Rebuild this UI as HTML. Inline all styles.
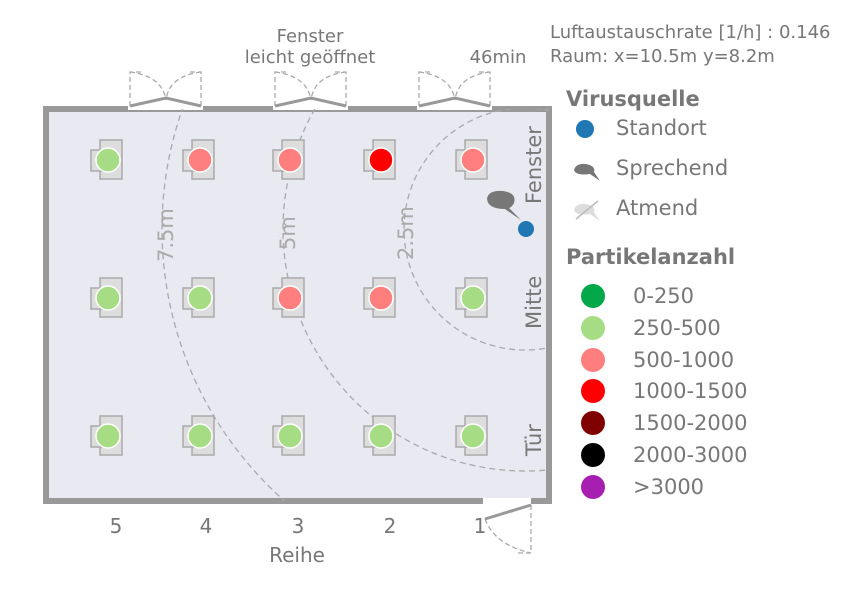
<!DOCTYPE html>
<html><head><meta charset="utf-8"><style>body{margin:0;background:#fff}svg{display:block}text{font-family:"DejaVu Sans","Liberation Sans",sans-serif}</style></head><body>
<svg width="864" height="600" viewBox="0 0 864 600" xmlns="http://www.w3.org/2000/svg">
<defs><clipPath id="room"><rect x="46" y="109" width="503" height="392"/></clipPath>
<g id="d" fill="#ddd" stroke="#aaa" stroke-width="1.5"><rect x="-8" y="-20" width="22" height="39"/><rect x="-17" y="-10" width="12" height="21"/></g>
<g id="w"><path d="M130 106 V72 H143 M201 106 V72 H188 M130 72 Q162 76 166 100 M201 72 Q169 76 166 100"/></g>
<g id="s"><path d="M130 106 L166 98 L201 106"/></g>
</defs>
<rect x="46" y="109" width="503" height="392" fill="#e9e9f1" stroke="#999" stroke-width="6"/>
<g fill="#fff"><rect x="128" y="104" width="75" height="6"/><rect x="273" y="104" width="75" height="6"/><rect x="417" y="104" width="75" height="6"/><rect x="483" y="498" width="48" height="7"/></g>
<g fill="none" stroke="#aaa" stroke-width="1.3" stroke-dasharray="5,3">
<use href="#w"/><use href="#w" x="145"/><use href="#w" x="289"/>
<path d="M531 505 V553 H515 M485 519 Q495 545 531 553"/>
</g>
<g stroke="#999" stroke-width="3" fill="none"><use href="#s"/><use href="#s" x="145"/><use href="#s" x="289"/><path d="M531 505 L485 519"/></g>
<g clip-path="url(#room)" fill="none" stroke="#aaa" stroke-width="1.3" stroke-dasharray="6,4">
<circle cx="525" cy="229" r="121"/><circle cx="525" cy="229" r="242"/><circle cx="525" cy="229" r="363"/>
</g>
<g fill="#aaa" font-size="21"><text transform="translate(173,262) rotate(-90)">7.5m</text><text transform="translate(295,250) rotate(-90)">5m</text><text transform="translate(413,260) rotate(-90)">2.5m</text></g>
<g fill="#777" font-size="21"><text transform="translate(541,204) rotate(-90)">Fenster</text><text transform="translate(541,329) rotate(-90)">Mitte</text><text transform="translate(541,456) rotate(-90)">Tür</text></g>
<g stroke="#fff" stroke-width="1.5">
<use href="#d" x="108" y="160"/><circle cx="108" cy="160" r="12" fill="#a6dc84"/>
<use href="#d" x="200" y="160"/><circle cx="200" cy="160" r="12" fill="#ff7f7f"/>
<use href="#d" x="290" y="160"/><circle cx="290" cy="160" r="12" fill="#ff7f7f"/>
<use href="#d" x="381" y="160"/><circle cx="381" cy="160" r="12" fill="#ff0000"/>
<use href="#d" x="473" y="160"/><circle cx="473" cy="160" r="12" fill="#ff7f7f"/>
<use href="#d" x="108" y="298"/><circle cx="108" cy="298" r="12" fill="#a6dc84"/>
<use href="#d" x="200" y="298"/><circle cx="200" cy="298" r="12" fill="#a6dc84"/>
<use href="#d" x="290" y="298"/><circle cx="290" cy="298" r="12" fill="#ff7f7f"/>
<use href="#d" x="381" y="298"/><circle cx="381" cy="298" r="12" fill="#ff7f7f"/>
<use href="#d" x="473" y="298"/><circle cx="473" cy="298" r="12" fill="#a6dc84"/>
<use href="#d" x="108" y="436"/><circle cx="108" cy="436" r="12" fill="#a6dc84"/>
<use href="#d" x="200" y="436"/><circle cx="200" cy="436" r="12" fill="#a6dc84"/>
<use href="#d" x="290" y="436"/><circle cx="290" cy="436" r="12" fill="#a6dc84"/>
<use href="#d" x="381" y="436"/><circle cx="381" cy="436" r="12" fill="#a6dc84"/>
<use href="#d" x="473" y="436"/><circle cx="473" cy="436" r="12" fill="#a6dc84"/>
</g>
<path d="M487 199 Q488 190 503 191 Q517 193 514 203 Q512 207 509 208 L521 220 L505 209 Q488 209 487 199Z" fill="#777"/>
<circle cx="526" cy="229" r="8" fill="#1f77b4"/>
<g fill="#777" font-size="18"><text x="310" y="42" text-anchor="middle">Fenster</text><text x="310" y="63" text-anchor="middle">leicht geöffnet</text><text x="498" y="63" text-anchor="middle">46min</text></g>
<g fill="#777" font-size="18"><text x="550" y="38">Luftaustauschrate [1/h] : 0.146</text><text x="550" y="62">Raum: x=10.5m y=8.2m</text></g>
<g fill="#777" font-size="21">
<text x="566" y="106" font-weight="bold">Virusquelle</text>
<circle cx="585" cy="129" r="9" fill="#1f77b4"/><text x="616" y="135">Standort</text>
<path d="M574 170 Q576 163 586 164 Q596 166 594 172 L600 181 L590 174 Q576 176 574 170Z" fill="#777"/><text x="616" y="175">Sprechend</text>
<path d="M574 210 Q576 203 586 204 Q596 206 594 212 L600 221 L590 214 Q576 216 574 210Z" fill="#ddd"/><path d="M576 219 L598 201" stroke="#bbb" stroke-width="1.5"/><text x="616" y="215">Atmend</text>
<text x="566" y="264" font-weight="bold">Partikelanzahl</text>
<circle cx="593" cy="296" r="12" fill="#00a84a"/><text x="633" y="303">0-250</text>
<circle cx="593" cy="328" r="12" fill="#a6dc84"/><text x="633" y="335">250-500</text>
<circle cx="593" cy="360" r="12" fill="#ff7f7f"/><text x="633" y="367">500-1000</text>
<circle cx="593" cy="391" r="12" fill="#ff0000"/><text x="633" y="398">1000-1500</text>
<circle cx="593" cy="423" r="12" fill="#800000"/><text x="633" y="430">1500-2000</text>
<circle cx="593" cy="455" r="12" fill="#000"/><text x="633" y="462">2000-3000</text>
<circle cx="593" cy="487" r="12" fill="#a61fb0"/><text x="633" y="494">&gt;3000</text>
</g>
<g fill="#777" font-size="20" text-anchor="middle"><text x="116" y="533">5</text><text x="206" y="533">4</text><text x="298" y="533">3</text><text x="390" y="533">2</text><text x="480" y="533">1</text><text x="297" y="562">Reihe</text></g>
</svg>
</body></html>
